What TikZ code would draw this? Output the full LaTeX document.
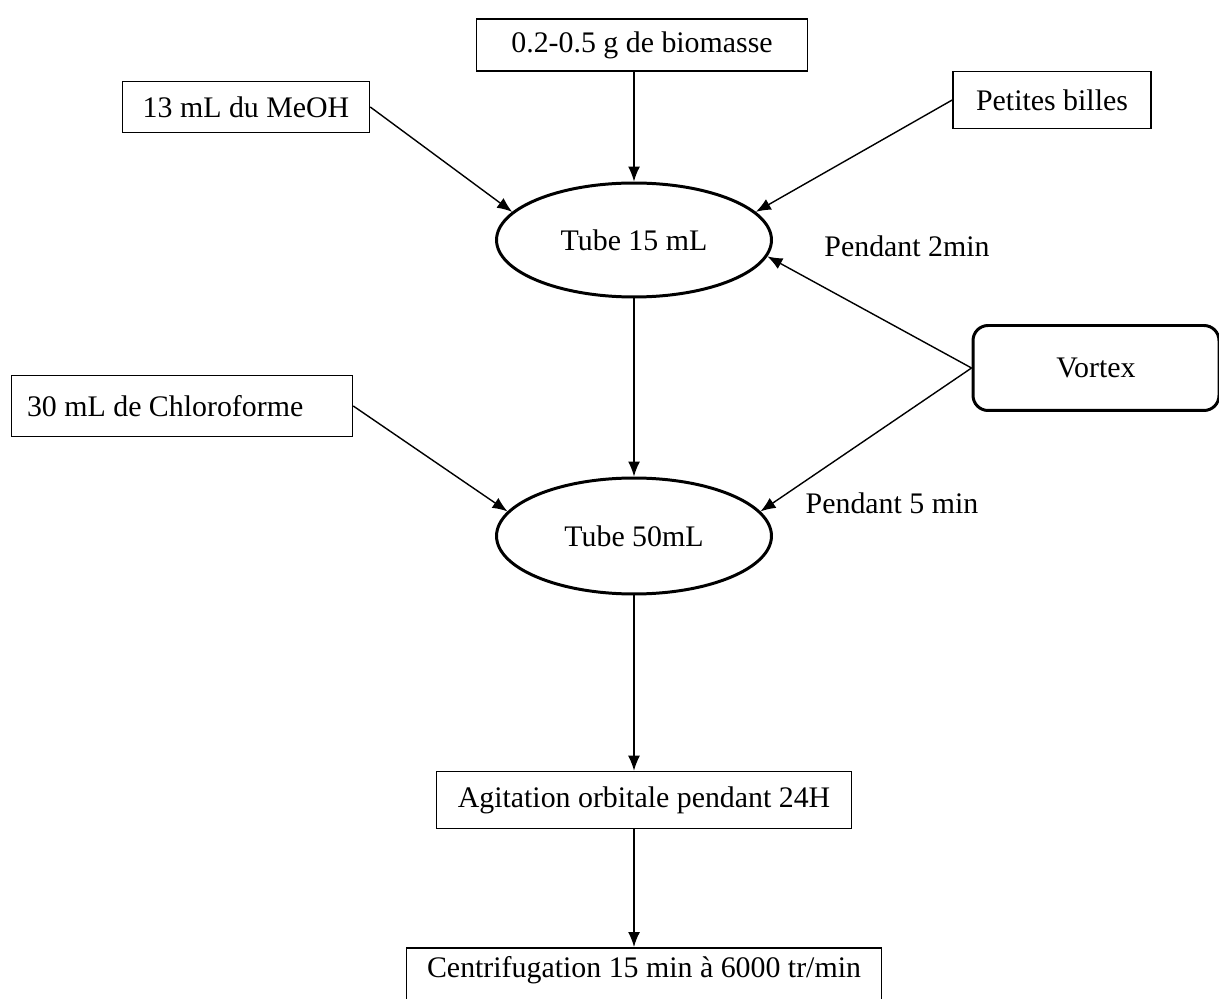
\documentclass[tikz,border=0pt]{standalone}
\usepackage{fontspec}
\setmainfont{Liberation Serif}
\usepackage{tikz}
\usetikzlibrary{shapes.geometric, positioning}
\usetikzlibrary{arrows.meta}
\tikzset{>={Latex[length=3mm,width=2.4mm]}}
\tikzset{
  boite/.style={draw, line width=0.9pt, inner sep=0pt},
  tube/.style={draw, ellipse, line width=1.7pt, inner sep=0pt},
  fleche/.style={->, line width=0.8pt},
}

\begin{document}
\begin{tikzpicture}[x=0.02cm, y=-0.02cm, font=\fontsize{17}{20}\selectfont]
			\useasboundingbox (0,0) rectangle (1219,999);
			\clip (0,0) rectangle (1219,999);
			\node [boite, minimum width=6.62cm, minimum height=1.04cm] (bio) at (642,45) {0.2-0.5 g de biomasse};
			\node [boite, minimum width=4.94cm, minimum height=1.02cm] (meoh) at (246,107) {13 mL du MeOH};
			\node [boite, minimum width=3.96cm, minimum height=1.14cm] (billes) at (1052,100) {Petites billes};
			\node [tube, minimum width=5.5cm, minimum height=2.28cm] (tube15) at (634,240) {Tube 15 mL};
			\node (p2) at (907,246) {Pendant 2min};
			\node [boite, line width=1.7pt, rounded corners=0.3cm, minimum width=4.92cm, minimum height=1.7cm] (vortex) at (1096,368) {Vortex};
			\node [boite, minimum width=6.82cm, minimum height=1.22cm, text width=6.2cm, align=flush left] (chloro) at (182,406) {30 mL de Chloroforme\\[-0.2cm]};
			\node [tube, minimum width=5.5cm, minimum height=2.32cm] (tube50) at (634,536) {Tube 50mL};
			\node (p5) at (892,503) {Pendant 5 min};
			\node [boite, minimum width=8.3cm, minimum height=1.14cm] (agit) at (644,800) {Agitation orbitale pendant 24H};
			\node [boite, anchor=north, minimum width=9.5cm, text height=0.6cm, text depth=0.75cm] (centri) at (644,947) {Centrifugation 15 min à 6000 tr/min};
			% liaisons
			\draw [fleche] (tube15 |- bio.south) -- (tube15.north);
			\draw [fleche] (meoh.east) -- (tube15.167);
			\draw [fleche] (billes.west) -- (tube15.13);
			\draw [fleche] (vortex.west) -- (tube15.-7);
			\draw [fleche] (vortex.west) -- (tube50.11);
			\draw [fleche] (chloro.east) -- (tube50.169);
			\draw [fleche] (tube15.south) -- (tube50.north);
			\draw [fleche] (tube50.south) -- (tube50.south |- agit.north);
			\draw [fleche] (tube50.south |- agit.south) -- (tube50.south |- centri.north);
		\end{tikzpicture}
\end{document}
